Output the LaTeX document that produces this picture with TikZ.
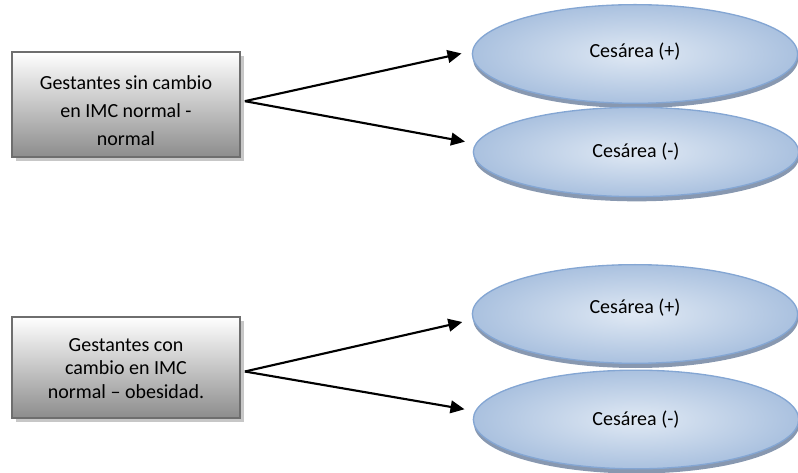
\documentclass[tikz,border=0pt]{standalone}
\usepackage{fontspec}
\setmainfont{Carlito}
\usepackage{tikz}
\usetikzlibrary{shapes.geometric, shadows, arrows.meta}

\definecolor{ovalline}{HTML}{84A6D3}
\definecolor{ovalin}{HTML}{E0E9F4}
\definecolor{ovalout}{HTML}{AAC1DF}
\definecolor{ovalshadow}{HTML}{8898B0}
\definecolor{boxline}{HTML}{6E6E6E}

\begin{document}
\begin{tikzpicture}[
            x=0.75pt, y=-0.75pt,
            box/.style={rectangle, draw=boxline, line width=1.3pt, minimum width=171pt,
                align=center, top color=white, bottom color=black!45,
                drop shadow={shadow xshift=3pt, shadow yshift=-3pt, fill=black!22, opacity=1}},
            oval/.style={ellipse, draw=ovalline, line width=1pt, minimum width=244pt,
                inner color=ovalin, outer color=ovalout,
                drop shadow={shadow xshift=0.5pt, shadow yshift=-3.5pt, fill=ovalshadow, opacity=1}},
            arr/.style={line width=1.6pt, -{Triangle[length=10.5pt, width=9.5pt]}, shorten >=8pt},
            font={\fontsize{15pt}{21pt}\selectfont}
        ]
        \useasboundingbox (0,0) rectangle (798,473);
        % node, what it looks like, name, contents (the rule pushes the lines down a bit)
        \node[box, minimum height=79pt] (g1) at (126,104.5)
            {\rule{0pt}{19pt}Gestantes sin cambio \\ en IMC normal - \\ normal};
        \node[box, minimum height=76pt, font={\fontsize{15pt}{17.5pt}\selectfont}] (g2) at (126,367.5)
            {\rule{0pt}{11pt}Gestantes con \\ cambio en IMC \\ normal -- obesidad.};

        \node[oval, minimum height=74pt] (c1) at (635,54) {Cesárea (+)\rule[-6pt]{0pt}{6pt}};
        \node[oval, minimum height=67pt] (c2) at (636,152) {Cesárea (-)};
        \node[oval, minimum height=74pt] (c3) at (635,314) {Cesárea (+)\rule[-12pt]{0pt}{12pt}};
        \node[oval, minimum height=74pt] (c4) at (636,419.5) {Cesárea (-)};

        % arrows, box to ovals
        \draw[arr] ([xshift=3pt, yshift=2.5pt]g1.east) -- (c1.179);
        \draw[arr] ([xshift=3pt, yshift=2.5pt]g1.east) -- (c2.177);
        \draw[arr] ([xshift=3pt, yshift=-3pt]g2.east) -- (c3.182);
        \draw[arr] ([xshift=3pt, yshift=-3pt]g2.east) -- (c4.177);
    \end{tikzpicture}
\end{document}
